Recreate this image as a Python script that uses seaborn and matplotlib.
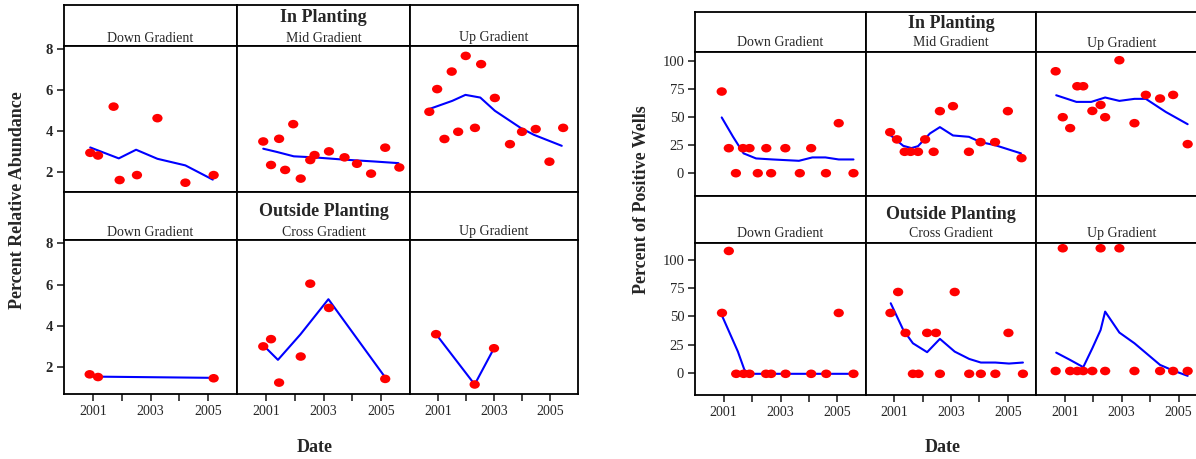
import pandas as pd
import matplotlib
matplotlib.use("Agg")
import matplotlib.pyplot as plt
import seaborn as sns
from matplotlib.path import Path

# ---- data: Percent Relative Abundance (left chart) ----
ab_in_down_yr = [2000.91, 2001.18, 2001.72, 2001.93, 2002.53, 2003.24, 2004.21, 2005.19]
ab_in_down_val = [2.95, 2.82, 5.19, 1.63, 1.87, 4.63, 1.50, 1.87]
ab_in_down_fit_yr = [2000.91, 2001.90, 2002.50, 2003.24, 2004.21, 2005.16]
ab_in_down_fit_val = [3.21, 2.68, 3.10, 2.66, 2.34, 1.65]

ab_in_mid_yr = [2000.91, 2001.18, 2001.46, 2001.67, 2001.95, 2002.21, 2002.54, 2002.69,
                2003.19, 2003.73, 2004.16, 2004.65, 2005.14, 2005.63]
ab_in_mid_val = [3.50, 2.36, 3.63, 2.12, 4.34, 1.70, 2.60, 2.84, 3.02, 2.73, 2.42, 1.94, 3.20, 2.24]
ab_in_mid_fit_yr = [2000.91, 2001.39, 2001.97, 2002.67, 2003.71, 2004.76, 2005.60]
ab_in_mid_fit_val = [3.15, 2.99, 2.78, 2.73, 2.62, 2.53, 2.45]

ab_in_up_yr = [2000.69, 2000.97, 2001.23, 2001.49, 2001.72, 2001.99, 2002.32, 2002.54,
               2003.03, 2003.57, 2004.00, 2004.49, 2004.98, 2005.47]
ab_in_up_val = [4.94, 6.04, 3.62, 6.89, 3.97, 7.65, 4.16, 7.25, 5.61, 3.37, 3.97, 4.10, 2.52, 4.16]
ab_in_up_fit_yr = [2000.70, 2001.51, 2001.98, 2002.51, 2003.03, 2003.96, 2004.43, 2005.42]
ab_in_up_fit_val = [5.08, 5.47, 5.76, 5.63, 4.99, 4.15, 3.82, 3.29]

ab_out_down_yr = [2000.89, 2001.18, 2005.19]
ab_out_down_val = [1.66, 1.53, 1.47]
ab_out_down_fit_yr = [2001.05, 2005.19]
ab_out_down_fit_val = [1.55, 1.49]

ab_out_cross_yr = [2000.91, 2001.18, 2001.46, 2002.21, 2002.54, 2003.19, 2005.14]
ab_out_cross_val = [3.01, 3.36, 1.26, 2.52, 6.04, 4.87, 1.44]
ab_out_cross_fit_yr = [2000.98, 2001.42, 2002.20, 2003.17, 2005.12]
ab_out_cross_fit_val = [2.97, 2.36, 3.59, 5.29, 1.55]

ab_out_up_yr = [2000.93, 2002.31, 2003.00]
ab_out_up_val = [3.60, 1.17, 2.92]
ab_out_up_fit_yr = [2000.93, 2002.31, 2003.00]
ab_out_up_fit_val = [3.60, 1.17, 2.92]

# ---- data: Percent of Positive Wells (right chart) ----
pw_in_down_yr = [2000.93, 2001.18, 2001.43, 2001.68, 2001.91, 2002.20, 2002.50, 2002.67,
                 2003.17, 2003.68, 2004.08, 2004.60, 2005.05, 2005.57]
pw_in_down_val = [72.5, 22.2, 0, 22.2, 22.2, 0, 22.2, 0, 22.2, 0, 22.2, 0, 44.4, 0]
pw_in_down_fit_yr = [2000.93, 2001.33, 2001.70, 2002.14, 2002.72, 2003.65, 2004.12, 2004.58, 2005.05, 2005.57]
pw_in_down_fit_val = [49.5, 32.3, 17.6, 13.1, 12.2, 11.0, 14.0, 14.0, 12.2, 12.2]

pw_in_mid_yr = [2000.86, 2001.10, 2001.37, 2001.58, 2001.84, 2002.09, 2002.39, 2002.61,
                2003.07, 2003.63, 2004.04, 2004.55, 2005.00, 2005.48]
pw_in_mid_val = [36.4, 30.0, 19.0, 19.0, 19.0, 30.0, 19.0, 55.1, 59.5, 19.0, 27.6, 27.6, 55.1, 13.4]
pw_in_mid_fit_yr = [2000.86, 2001.32, 2001.61, 2001.84, 2002.26, 2002.61, 2003.07, 2003.63,
                    2004.04, 2004.55, 2005.46]
pw_in_mid_fit_val = [34.0, 24.3, 22.3, 24.0, 35.3, 40.9, 33.5, 32.3, 27.6, 24.9, 17.6]

pw_in_up_yr = [2000.68, 2000.93, 2001.19, 2001.44, 2001.65, 2001.97, 2002.26, 2002.42,
               2002.92, 2003.45, 2003.85, 2004.35, 2004.81, 2005.32]
pw_in_up_val = [90.5, 49.7, 40.0, 77.2, 77.2, 55.3, 60.6, 49.7, 100.3, 44.4, 69.5, 66.3, 69.5, 25.8]
pw_in_up_fit_yr = [2000.70, 2001.41, 2001.93, 2002.42, 2002.92, 2003.45, 2003.85, 2004.55, 2005.32]
pw_in_up_fit_val = [69.2, 63.3, 63.3, 67.2, 64.2, 66.0, 66.0, 54.4, 43.5]

pw_out_down_yr = [2000.94, 2001.18, 2001.44, 2001.70, 2001.91, 2002.49, 2002.67, 2003.18,
                  2004.08, 2004.61, 2005.05, 2005.57]
pw_out_down_val = [53, 108, -1, -1, -1, -1, -1, -1, -1, -1, 53, -1]
pw_out_down_fit_yr = [2000.94, 2001.50, 2001.73, 2001.91, 2005.57]
pw_out_down_fit_val = [50.6, 18.7, 2.5, -1, -1]

pw_out_cross_yr = [2000.87, 2001.14, 2001.40, 2001.66, 2001.86, 2002.16, 2002.47, 2002.61,
                   2003.13, 2003.64, 2004.05, 2004.56, 2005.02, 2005.53]
pw_out_cross_val = [53, 71.6, 35.3, -1, -1, 35.3, 35.3, -1, 71.6, -1, -1, -1, 35.3, -1]
pw_out_cross_fit_yr = [2000.88, 2001.32, 2001.66, 2002.16, 2002.61, 2003.13, 2003.64,
                       2004.05, 2004.56, 2005.04, 2005.53]
pw_out_cross_fit_val = [61.6, 38.0, 26.1, 18.2, 30.0, 18.7, 12.2, 9.0, 9.0, 8.1, 9.0]

pw_out_up_yr = [2000.68, 2000.93, 2001.19, 2001.44, 2001.65, 2001.97, 2002.26, 2002.42,
                2002.92, 2003.45, 2004.35, 2004.81, 2005.32]
pw_out_up_val = [1.5, 110.4, 1.5, 1.5, 1.5, 1.5, 110.4, 1.5, 110.4, 1.5, 1.5, 1.5, 1.5]
pw_out_up_fit_yr = [2000.70, 2001.19, 2001.65, 2001.97, 2002.26, 2002.42, 2002.92, 2003.45,
                    2004.35, 2004.81, 2005.32]
pw_out_up_fit_val = [17.8, 11.3, 4.9, 21.7, 37.9, 54.2, 35.6, 26.1, 6.9, 1.9, -2.8]

top_labels = ["Down Gradient", "Mid Gradient", "Up Gradient"]
bottom_labels = ["Down Gradient", "Cross Gradient", "Up Gradient"]
year_ticks = [2001, 2002, 2003, 2004, 2005]
year_labels = ["2001", "", "2003", "", "2005"]

sns.set_style("white")
plt.rcParams["font.family"] = ["Liberation Serif", "DejaVu Serif"]

W, H = 1196, 459
fig = plt.figure(figsize=(W / 100, H / 100), dpi=100)

# slightly wide ellipse marker like the original dots
circ = Path.unit_circle()
dot = Path(circ.vertices * [1.2, 1.0], circ.codes)


def box(x0, y0, x1, y1):
    ax = fig.add_axes([x0 / W, 1 - y1 / H, (x1 - x0) / W, (y1 - y0) / H])
    for s in ax.spines.values():
        s.set_visible(True)
        s.set_color("black")
        s.set_linewidth(1.3)
    return ax


def panel(ax, yr, val, fit_yr, fit_val):
    pts = pd.DataFrame({"Date": yr, "Value": val})
    fit = pd.DataFrame({"Date": fit_yr, "Value": fit_val})
    sns.lineplot(data=fit, x="Date", y="Value", ax=ax, color="#0000ff", lw=1.5,
                 estimator=None, sort=False)
    sns.scatterplot(data=pts, x="Date", y="Value", ax=ax, marker=dot, s=55,
                    color="#ff0000", edgecolor="none", zorder=3)
    ax.set_xlabel("")
    ax.set_ylabel("")
    ax.set_xlim(2000, 2006)


def chart(cols, rows, data, ylims, yticks, title_y, sub_y, ylabel, ylabel_x, date_x,
          ytick_weight="normal"):
    # rows: strip top, panel top, strip bottom, panel bottom (pixel edges)
    for r, (s0, s1, p1) in enumerate([(rows[0], rows[1], rows[2]), (rows[2], rows[3], rows[4])]):
        labels = top_labels if r == 0 else bottom_labels
        for c in range(3):
            st = box(cols[c], s0, cols[c + 1], s1)
            st.set_xticks([])
            st.set_yticks([])
            fig.text((cols[c] + cols[c + 1]) / 2 / W, 1 - sub_y[r] / H, labels[c],
                     ha="center", va="center", fontsize=10)
            ax = box(cols[c], s1, cols[c + 1], p1)
            panel(ax, *data[r][c])
            ax.set_ylim(*ylims[r])
            if c == 0:
                ax.set_yticks(yticks)
                ax.set_yticklabels([str(t) for t in yticks], fontweight=ytick_weight)
                ax.tick_params(axis="y", left=True, direction="out", length=5, width=1.2,
                               labelsize=10.5, pad=3)
            else:
                ax.set_yticks([])
            if r == 1:
                ax.set_xticks(year_ticks)
                ax.set_xticklabels(year_labels)
                ax.tick_params(axis="x", bottom=True, direction="out", length=5, width=1.2,
                               labelsize=10, pad=3)
            else:
                ax.set_xticks([])
        fig.text((cols[1] + cols[2]) / 2 / W, 1 - title_y[r] / H,
                 "In Planting" if r == 0 else "Outside Planting",
                 ha="center", va="center", fontsize=13, fontweight="bold")
    fig.text(ylabel_x / W, 1 - 200 / H, ylabel, rotation=90, ha="center", va="center",
             fontsize=13, fontweight="bold")
    fig.text(date_x / W, 1 - 447 / H, "Date", ha="center", va="center",
             fontsize=13, fontweight="bold")


ab_data = [
    [(ab_in_down_yr, ab_in_down_val, ab_in_down_fit_yr, ab_in_down_fit_val),
     (ab_in_mid_yr, ab_in_mid_val, ab_in_mid_fit_yr, ab_in_mid_fit_val),
     (ab_in_up_yr, ab_in_up_val, ab_in_up_fit_yr, ab_in_up_fit_val)],
    [(ab_out_down_yr, ab_out_down_val, ab_out_down_fit_yr, ab_out_down_fit_val),
     (ab_out_cross_yr, ab_out_cross_val, ab_out_cross_fit_yr, ab_out_cross_fit_val),
     (ab_out_up_yr, ab_out_up_val, ab_out_up_fit_yr, ab_out_up_fit_val)],
]
pw_data = [
    [(pw_in_down_yr, pw_in_down_val, pw_in_down_fit_yr, pw_in_down_fit_val),
     (pw_in_mid_yr, pw_in_mid_val, pw_in_mid_fit_yr, pw_in_mid_fit_val),
     (pw_in_up_yr, pw_in_up_val, pw_in_up_fit_yr, pw_in_up_fit_val)],
    [(pw_out_down_yr, pw_out_down_val, pw_out_down_fit_yr, pw_out_down_fit_val),
     (pw_out_cross_yr, pw_out_cross_val, pw_out_cross_fit_yr, pw_out_cross_fit_val),
     (pw_out_up_yr, pw_out_up_val, pw_out_up_fit_yr, pw_out_up_fit_val)],
]

chart(cols=[64, 237, 410, 578], rows=[5, 46, 192, 240, 394], data=ab_data,
      ylims=[(1.05, 8.13), (0.71, 8.15)], yticks=[2, 4, 6, 8],
      title_y=[18, 211], sub_y=[38, 232], ylabel="Percent Relative Abundance",
      ylabel_x=18, date_x=315, ytick_weight="bold")

chart(cols=[695.3, 865.7, 1036.3, 1207], rows=[12, 52, 195.5, 243.3, 395], data=pw_data,
      ylims=[(-19.8, 107.6), (-19.8, 114.8)], yticks=[0, 25, 50, 75, 100],
      title_y=[24, 214], sub_y=[43, 234], ylabel="Percent of Positive Wells",
      ylabel_x=641, date_x=943)

fig.savefig("out.png", dpi=100)
